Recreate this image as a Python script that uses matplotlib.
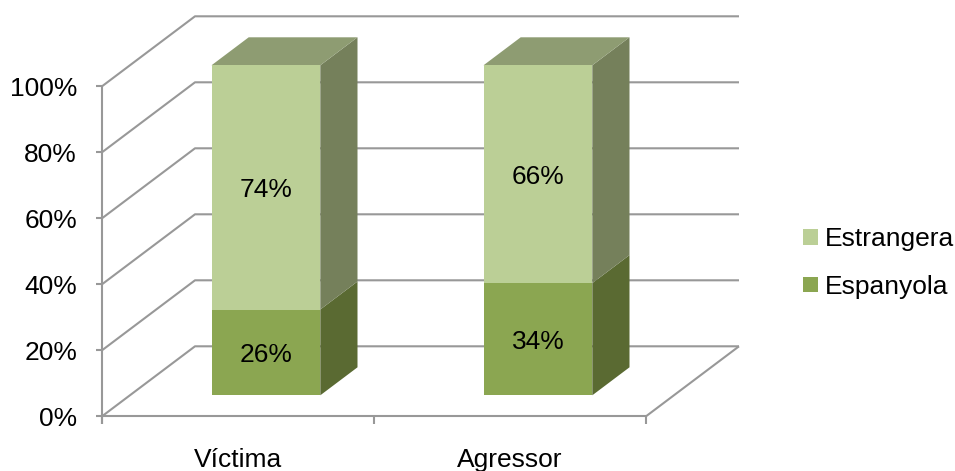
import matplotlib
matplotlib.use('Agg')
import matplotlib.pyplot as plt
from matplotlib.patches import Polygon, Patch

plt.rcParams['font.family'] = ['Liberation Sans', 'DejaVu Sans']

categories = ['Víctima', 'Agressor']
espanyola = [26, 34]
estrangera = [74, 66]
y_ticks = [0, 20, 40, 60, 80, 100]

# colors: front, side, top
colors_esp = ('#8BA651', '#5A6A32', '#6F8040')
colors_est = ('#BBCF96', '#75805B', '#8E9C72')
grid_color = '#989898'
font_size = 19

# pixel scale of the picture
W, H = 955, 471
x0_px, y0_px = 102, 416.3
px_per_cat, px_per_pct = 272, 3.3
# one full unit of depth as an offset in data units
depth_x = 93 / px_per_cat
depth_y = 70 / px_per_pct
bar_width = 0.4
depth_start, depth_end = 0.3, 0.7
text_drop = 3 / px_per_pct


def skew(x, y, d):
    """Oblique projection: moves a point back by depth d."""
    return x + d * depth_x, y + d * depth_y


fig = plt.figure(figsize=(W / 100, H / 100), dpi=100)
ax = fig.add_axes([0, 0, 1, 1])
ax.set_xlim(-x0_px / px_per_cat, (W - x0_px) / px_per_cat)
ax.set_ylim(-(H - y0_px) / px_per_pct, y0_px / px_per_pct)
ax.axis('off')

n = len(categories)
line_kw = dict(color=grid_color, lw=1.5, solid_capstyle='butt', zorder=1)

# walls and floor
for t in y_ticks:
    bx, by = skew(0, t, 1)
    ax.plot([0, bx, bx + n], [t, by, by], **line_kw)
    ax.plot([-6 / px_per_cat, 0], [t, t], **line_kw)
bx, by = skew(n, 0, 1)
ax.plot([n, bx], [0, by], **line_kw)
ax.plot([0, 0], [-8 / px_per_pct, 100], **line_kw)
ax.plot([0, n], [0, 0], **line_kw)
for i in range(n + 1):
    ax.plot([i, i], [-8 / px_per_pct, 0], **line_kw)


def draw_box(x, bottom, top, cols, show_top):
    x1 = x + bar_width
    front = [skew(x, bottom, depth_start), skew(x1, bottom, depth_start),
             skew(x1, top, depth_start), skew(x, top, depth_start)]
    side = [skew(x1, bottom, depth_start), skew(x1, bottom, depth_end),
            skew(x1, top, depth_end), skew(x1, top, depth_start)]
    ax.add_patch(Polygon(side, fc=cols[1], ec='none', zorder=3))
    ax.add_patch(Polygon(front, fc=cols[0], ec='none', zorder=4))
    if show_top:
        lid = [skew(x, top, depth_start), skew(x1, top, depth_start),
               skew(x1, top, depth_end), skew(x, top, depth_end)]
        ax.add_patch(Polygon(lid, fc=cols[2], ec='none', zorder=3))


for i, name in enumerate(categories):
    x = i + 0.5 - bar_width / 2
    a = espanyola[i]
    b = estrangera[i]
    draw_box(x, 0, a, colors_esp, False)
    draw_box(x, a, a + b, colors_est, True)
    lx, ly = skew(i + 0.5, a / 2, depth_start)
    ax.text(lx, ly - text_drop, f'{a}%', ha='center', va='center', fontsize=font_size, zorder=5)
    lx, ly = skew(i + 0.5, a + b / 2, depth_start)
    ax.text(lx, ly - text_drop, f'{b}%', ha='center', va='center', fontsize=font_size, zorder=5)
    ax.text(i + 0.5, -41 / px_per_pct - text_drop, name, ha='center', va='center', fontsize=font_size)

for t in y_ticks:
    ax.text(-25 / px_per_cat, t - text_drop, f'{t}%', ha='right', va='center', fontsize=font_size)

handles = [Patch(fc=colors_est[0], ec='none', label='Estrangera'),
           Patch(fc=colors_esp[0], ec='none', label='Espanyola')]
fig.legend(handles=handles, loc='center left', bbox_to_anchor=(803 / W, 1 - 263 / H),
           frameon=False, fontsize=font_size, handlelength=0.55, handleheight=0.55,
           handletextpad=0.28, labelspacing=0.9, borderpad=0, borderaxespad=0)

plt.savefig('out.png', dpi=100)
plt.close()
